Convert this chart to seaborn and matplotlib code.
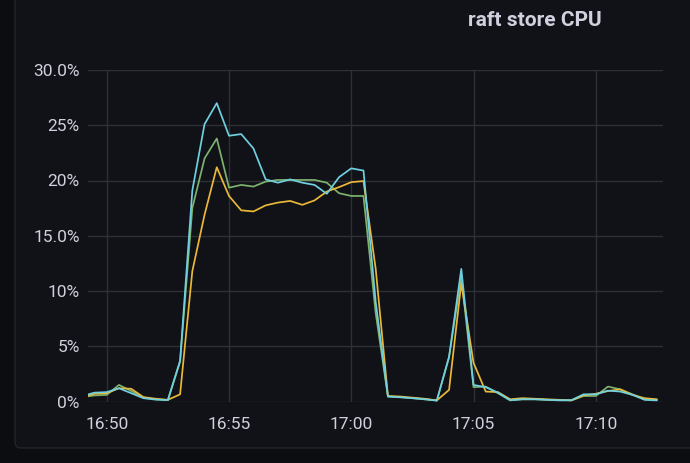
import numpy as np
import pandas as pd
import matplotlib
matplotlib.use("Agg")
import matplotlib.pyplot as plt
import matplotlib.dates as mdates
from matplotlib.patches import FancyBboxPatch
from matplotlib.transforms import IdentityTransform
import seaborn as sns

# ---- data (percent CPU, 30 s samples starting 16:49:00) ----
start_time = "2023-01-01 16:49:00"
n_points = 48
series_names = ["store-a", "store-b", "store-c"]
colors = ["#7EB26D", "#EAB839", "#6ED0E0"]

green = [0.4, 0.55, 0.6, 1.5, 0.95, 0.35, 0.2, 0.13, 3.6, 17.5, 22.0, 23.8,
         19.35, 19.6, 19.45, 19.9, 20.05, 20.05, 20.05, 20.05, 19.8, 18.85, 18.6, 18.6,
         8.0, 0.45, 0.4, 0.3, 0.2, 0.1, 4.0, 11.3, 1.3, 1.35, 0.75, 0.1,
         0.2, 0.2, 0.15, 0.1, 0.1, 0.5, 0.5, 1.35, 1.1, 0.65, 0.2, 0.15]
yellow = [0.4, 0.7, 0.75, 1.2, 1.15, 0.4, 0.25, 0.15, 0.65, 11.8, 16.9, 21.2,
          18.6, 17.3, 17.2, 17.75, 18.0, 18.15, 17.8, 18.2, 19.0, 19.4, 19.85, 19.95,
          12.0, 0.5, 0.45, 0.35, 0.25, 0.1, 1.05, 10.7, 3.5, 0.9, 0.85, 0.2,
          0.3, 0.25, 0.2, 0.15, 0.1, 0.55, 0.7, 0.95, 1.1, 0.6, 0.3, 0.2]
cyan = [0.5, 0.8, 0.85, 1.2, 0.75, 0.3, 0.17, 0.13, 3.7, 19.1, 25.1, 27.0,
        24.05, 24.2, 22.9, 20.1, 19.8, 20.1, 19.8, 19.6, 18.8, 20.3, 21.1, 20.9,
        9.0, 0.45, 0.38, 0.3, 0.2, 0.08, 4.05, 12.0, 1.5, 1.3, 0.8, 0.12,
        0.2, 0.2, 0.15, 0.12, 0.12, 0.65, 0.65, 0.98, 0.9, 0.6, 0.15, 0.1]

ytick_vals = [0, 5, 10, 15, 20, 25, 30]
ytick_labels = ["0%", "5%", "10%", "15.0%", "20%", "25%", "30.0%"]
xtick_labels = ["16:50", "16:55", "17:00", "17:05", "17:10"]
title = "raft store CPU"

times = pd.date_range(start_time, periods=n_points, freq="30s")
df = pd.concat([
    pd.DataFrame({"time": times, "value": v, "series": name})
    for name, v in zip(series_names, [green, yellow, cyan])
])

# ---- style ----
BG_OUT = "#0c0d10"
BG = "#111217"
TXT = "#d0d0de"
GRID = "#2e3036"

sns.set_theme(style="dark")
plt.rcParams["font.family"] = ["Roboto", "DejaVu Sans"]

fig = plt.figure(figsize=(6.9, 4.63), dpi=100, facecolor=BG_OUT)
panel = FancyBboxPatch((15, 15), 720, 500,
                       boxstyle="round,pad=0,rounding_size=6",
                       transform=IdentityTransform(),
                       fc=BG, ec="#23252b", lw=1.0, zorder=0)
fig.add_artist(panel)

ax = fig.add_axes([88 / 690, (463 - 401.5) / 463, (663 - 88) / 690, (401.5 - 70) / 463])
ax.set_facecolor("none")

sns.lineplot(data=df, x="time", y="value", hue="series",
             hue_order=series_names, palette=colors, legend=False,
             linewidth=1.25, ax=ax)

ax.set_xlim(pd.Timestamp("2023-01-01 16:49:14"), pd.Timestamp("2023-01-01 17:12:45"))
ax.set_ylim(0, 30)
xticks = [pd.Timestamp("2023-01-01 " + t) for t in xtick_labels]
ax.set_xticks(xticks)
ax.xaxis.set_major_formatter(mdates.DateFormatter("%H:%M"))
ax.set_yticks(ytick_vals)
ax.set_yticklabels(ytick_labels)

ax.grid(True, color=GRID, linewidth=1.0)
for s in ax.spines.values():
    s.set_visible(False)
ax.tick_params(axis="both", length=0, colors=TXT, labelsize=12.5)
ax.tick_params(axis="x", pad=11)
ax.tick_params(axis="y", pad=6)
ax.set_xlabel("")
ax.set_ylabel("")

fig.text(535 / 690, 1 - 20 / 463, title, ha="center", va="center",
         color=TXT, fontsize=15, fontweight="semibold")

fig.savefig("out.png", dpi=100, facecolor=fig.get_facecolor())
